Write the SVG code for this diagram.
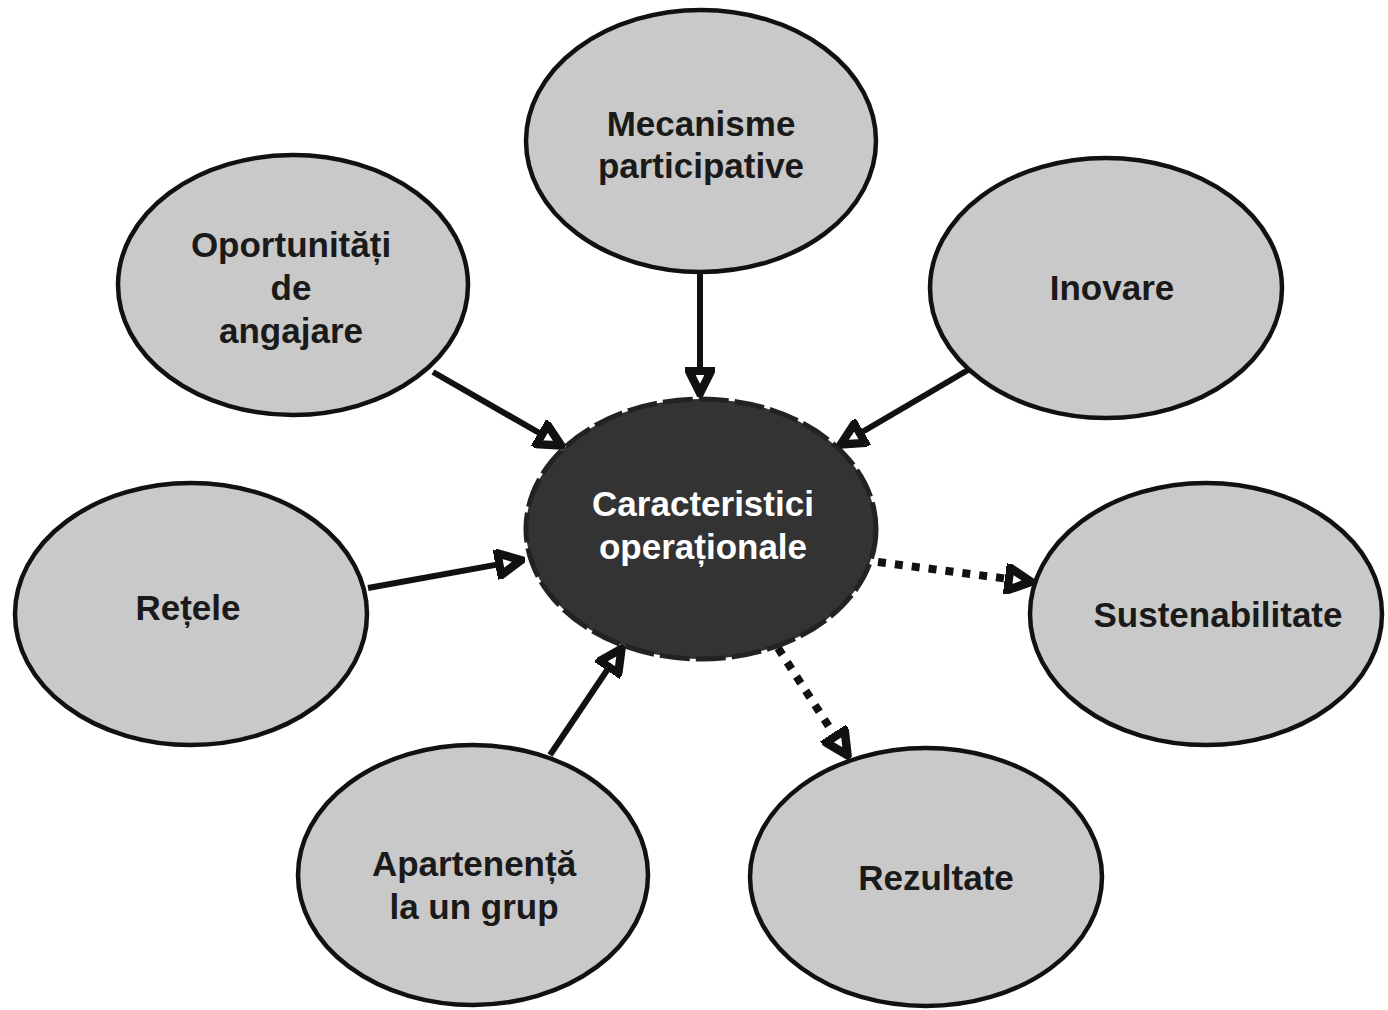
<svg xmlns="http://www.w3.org/2000/svg" width="1388" height="1010" viewBox="0 0 1388 1010">
<style>
.n{fill:#c9c9c9;stroke:#111;stroke-width:4.5}
.c{fill:#333;stroke:#222;stroke-width:5;stroke-dasharray:30 6}
.t{font-family:"Liberation Sans",Arial,sans-serif;font-weight:bold;font-size:35px;fill:#1a1a1a;text-anchor:middle}
.w{fill:#fff}
.s{stroke:#111;stroke-width:6;fill:none}
.d{stroke:#111;stroke-width:8;fill:none;stroke-dasharray:8 9}
</style>
<defs>
<marker id="a" viewBox="0 0 10 10" refX="9" refY="5" markerWidth="5" markerHeight="5" markerUnits="strokeWidth" orient="auto">
<path d="M1.3,1.3 L8.7,5 L1.3,8.7 Z" fill="#fff" stroke="#111" stroke-width="2.8" stroke-linejoin="miter"/>
</marker>
<marker id="b" viewBox="0 0 10 10" refX="9" refY="5" markerWidth="3.8" markerHeight="3.8" markerUnits="strokeWidth" orient="auto">
<path d="M1.3,1.3 L8.7,5 L1.3,8.7 Z" fill="#fff" stroke="#111" stroke-width="2.8"/>
</marker>
</defs>
<rect width="1388" height="1010" fill="#fff"/>
<g id="connectors">
<line class="s" x1="700" y1="273" x2="700" y2="394" marker-end="url(#a)"/>
<line class="s" x1="433" y1="372" x2="562" y2="446" marker-end="url(#a)"/>
<line class="s" x1="968" y1="370" x2="840" y2="445" marker-end="url(#a)"/>
<line class="s" x1="368" y1="588" x2="522" y2="560" marker-end="url(#a)"/>
<line class="s" x1="550" y1="755" x2="622" y2="648" marker-end="url(#a)"/>
<line class="d" x1="878" y1="562" x2="1032" y2="582" marker-end="url(#b)"/>
<line class="d" x1="778" y1="648" x2="848" y2="756" marker-end="url(#b)"/>
</g>
<g id="mecanisme">
<ellipse class="n" cx="701" cy="141" rx="175" ry="131"/>
<text class="t" x="701" y="136">Mecanisme</text>
<text class="t" x="701" y="178">participative</text>
</g>
<g id="oportunitati">
<ellipse class="n" cx="293" cy="285" rx="175" ry="130"/>
<text class="t" x="291" y="257">Oportunități</text>
<text class="t" x="291" y="300">de</text>
<text class="t" x="291" y="343">angajare</text>
</g>
<g id="inovare">
<ellipse class="n" cx="1106" cy="288" rx="176" ry="130"/>
<text class="t" x="1112" y="300">Inovare</text>
</g>
<g id="retele">
<ellipse class="n" cx="191" cy="614" rx="176" ry="131"/>
<text class="t" x="188" y="620">Rețele</text>
</g>
<g id="sustenabilitate">
<ellipse class="n" cx="1206" cy="614" rx="176" ry="131"/>
<text class="t" x="1218" y="627">Sustenabilitate</text>
</g>
<g id="apartenenta">
<ellipse class="n" cx="473" cy="875" rx="175" ry="130"/>
<text class="t" x="474" y="876">Apartenență</text>
<text class="t" x="474" y="919">la un grup</text>
</g>
<g id="rezultate">
<ellipse class="n" cx="926" cy="877" rx="176" ry="129"/>
<text class="t" x="936" y="890">Rezultate</text>
</g>
<g id="caracteristici">
<ellipse class="c" cx="701" cy="529" rx="175" ry="130"/>
<text class="t w" x="703" y="516">Caracteristici</text>
<text class="t w" x="703" y="559">operaționale</text>
</g>
</svg>
